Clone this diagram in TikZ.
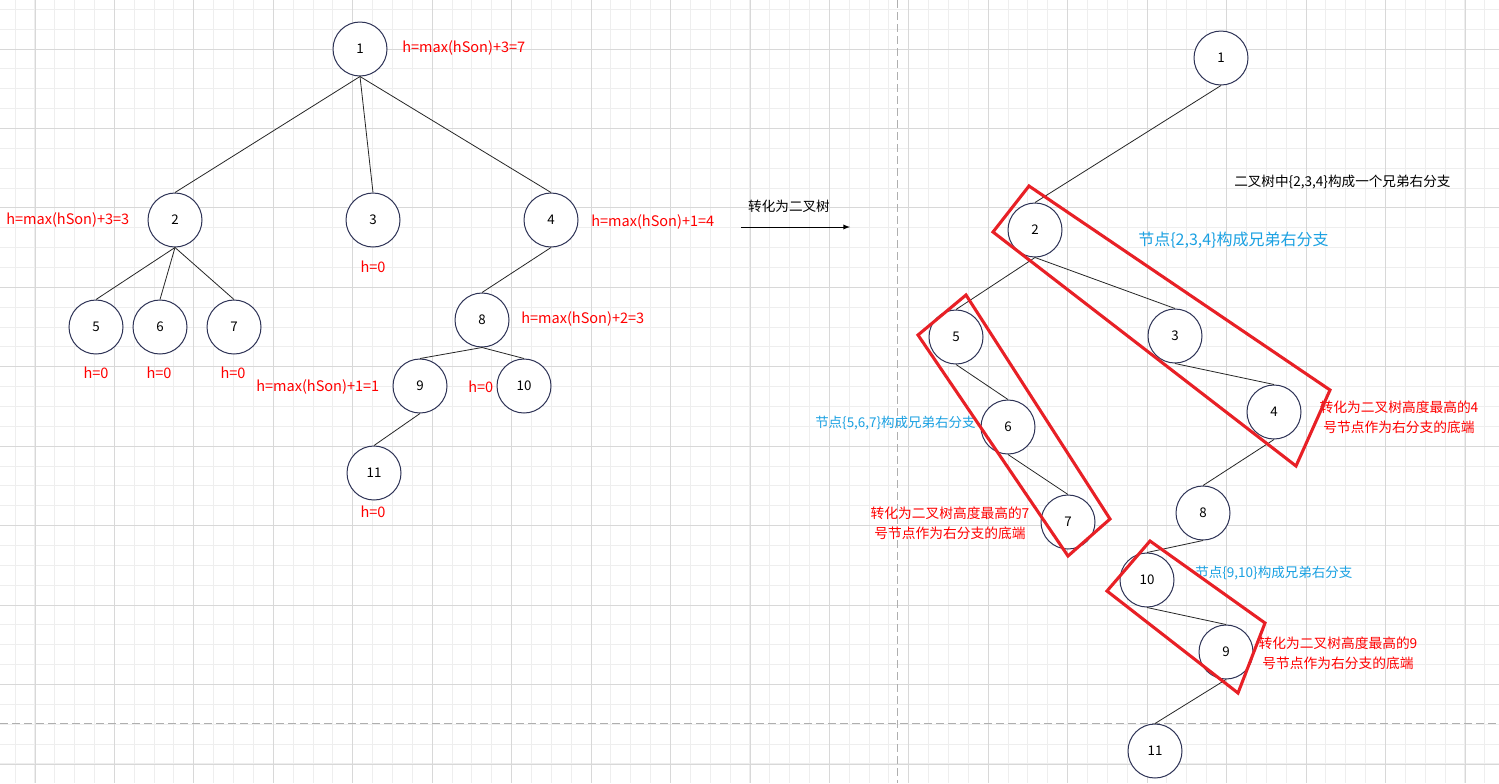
\documentclass[tikz,border=0pt]{standalone}
\usepackage{fontspec}
\newfontfamily\cjk{Noto Sans CJK SC}
\definecolor{gridminor}{RGB}{238,238,238}
\definecolor{gridmajor}{RGB}{216,216,216}
\definecolor{dashgray}{RGB}{175,175,175}
\definecolor{nodeline}{RGB}{45,50,85}
\definecolor{hred}{RGB}{255,0,0}
\definecolor{boxred}{RGB}{232,32,38}
\definecolor{noteblue}{RGB}{27,161,226}
\begin{document}
\begin{tikzpicture}[x=0.75pt, y=-0.75pt, >=latex,
		tnode/.style={circle, draw=nodeline, fill=white, line width=0.75pt,
			minimum size=40.5pt, inner sep=0pt, font=\cjk\fontsize{10}{12}\selectfont},
		hlabel/.style={text=hred, inner sep=0pt, font=\cjk\fontsize{10.9}{12}\selectfont},
		bluenote/.style={text=noteblue, inner sep=0pt, anchor=west},
		rednote/.style={text=hred, inner sep=0pt, align=center,
			font=\cjk\fontsize{10.3}{15}\selectfont},
		branchbox/.style={draw=boxred, line width=2.3pt},
		edge/.style={draw=black!85, line width=0.6pt}]
	\useasboundingbox (0,0) rectangle (1499,783);
	\fill[white] (0,0) rectangle (1499,783);
	% grid
	\foreach \i in {0,...,74}
		{
			\draw[gridminor, line width=0.75pt] ({15.1+19.86*\i},0) -- ++(0,783);
		}
	\foreach \i in {0,...,38}
		{
			\draw[gridminor, line width=0.75pt] (0,{9.3+19.86*\i}) -- ++(1499,0);
		}
	\foreach \i in {0,...,18}
		{
			\draw[gridmajor, line width=0.75pt] ({35+79.45*\i},0) -- ++(0,783);
		}
	\foreach \i in {0,...,9}
		{
			\draw[gridmajor, line width=0.75pt] (0,{49+79.45*\i}) -- ++(1499,0);
		}
	\draw[dashgray, line width=0.75pt, dash pattern=on 6pt off 3pt] (897,0) -- (897,783);
	\draw[dashgray, line width=0.75pt, dash pattern=on 6pt off 3pt] (0,723) -- (1499,723);

	% left tree
	\node[tnode] (l1) at (360,49) {1};
	\node[tnode] (l2) at (175,220) {2};
	\node[tnode] (l3) at (373,220) {3};
	\node[tnode] (l4) at (551,220) {4};
	\node[tnode] (l5) at (96,327) {5};
	\node[tnode] (l6) at (160,327) {6};
	\node[tnode] (l7) at (234,327) {7};
	\node[tnode] (l8) at (482,320) {8};
	\node[tnode] (l9) at (420,386) {9};
	\node[tnode] (l10) at (524,386) {10};
	\node[tnode] (l11) at (374,473) {11};
	\foreach \a/\b in {l1/l2, l1/l3, l1/l4, l2/l5, l2/l6, l2/l7, l4/l8, l8/l9, l8/l10, l9/l11}
		{
			\draw[edge] (\a.south) -- (\b.north);
		}

	\node[hlabel, anchor=west] (h1) at (402,48) {h=max(hSon)+3=7};
	\node[hlabel, anchor=west] (h2) at (6,220) {h=max(hSon)+3=3};
	\node[hlabel] (h3) at (373,267) {h=0};
	\node[hlabel, anchor=west] (h4) at (591,222) {h=max(hSon)+1=4};
	\node[hlabel] (h5) at (96,373) {h=0};
	\node[hlabel] (h6) at (159,373) {h=0};
	\node[hlabel] (h7) at (233,373) {h=0};
	\node[hlabel, anchor=west] (h8) at (521,319) {h=max(hSon)+2=3};
	\node[hlabel, anchor=west] (h9) at (256,387) {h=max(hSon)+1=1};
	\node[hlabel, anchor=west] (h10) at (468,387) {h=0};
	\node[hlabel] (h11) at (373,512) {h=0};

	% conversion arrow
	\coordinate (convs) at (741,227);
	\coordinate (conve) at (850,227);
	\draw[->, line width=0.75pt] (convs) -- (conve);
	\node[font=\cjk\fontsize{10.2}{12}\selectfont, inner sep=0pt] (convlabel) at (789,206) {转化为二叉树};

	% binary tree
	\node[tnode] (r1) at (1221,58) {1};
	\node[tnode] (r2) at (1035,230) {2};
	\node[tnode] (r3) at (1175,336) {3};
	\node[tnode] (r4) at (1274,412) {4};
	\node[tnode] (r5) at (956,337) {5};
	\node[tnode] (r6) at (1008,427) {6};
	\node[tnode] (r7) at (1068,522) {7};
	\node[tnode] (r8) at (1203,513) {8};
	\node[tnode] (r10) at (1147,580) {10};
	\node[tnode] (r9) at (1226,652) {9};
	\node[tnode] (r11) at (1155,751) {11};
	\foreach \a/\b in {r1/r2, r2/r5, r2/r3, r3/r4, r5/r6, r6/r7, r4/r8, r8/r10, r10/r9, r9/r11}
		{
			\draw[edge] (\a.south) -- (\b.north);
		}

	\node[inner sep=0pt, anchor=west, font=\cjk\fontsize{10.2}{12}\selectfont] (note234) at (1234,182)
		{二叉树中\{2,3,4\}构成一个兄弟右分支};
	\node[bluenote, font=\cjk\fontsize{12}{14}\selectfont] (blue234) at (1138,240) {节点\{2,3,4\}构成兄弟右分支};
	\node[bluenote, font=\cjk\fontsize{10.1}{12}\selectfont] (blue567) at (815,423) {节点\{5,6,7\}构成兄弟右分支};
	\node[bluenote, font=\cjk\fontsize{10.15}{12}\selectfont] (blue910) at (1195,573) {节点\{9,10\}构成兄弟右分支};
	\node[rednote] (red7) at (950,523) {转化为二叉树高度最高的7\\号节点作为右分支的底端};
	\node[rednote] (red4) at (1399,417) {转化为二叉树高度最高的4\\号节点作为右分支的底端};
	\node[rednote] (red9) at (1338,653) {转化为二叉树高度最高的9\\号节点作为右分支的底端};

	% sibling branches
	\draw[branchbox] (1029,186) -- (1330,390) -- (1296,466) -- (993,232) -- cycle;
	\draw[branchbox] (966,295) -- (1110,519) -- (1068,556) -- (918,335) -- cycle;
	\draw[branchbox] (1150,541) -- (1265,623) -- (1238,693) -- (1107,591) -- cycle;
\end{tikzpicture}
\end{document}
